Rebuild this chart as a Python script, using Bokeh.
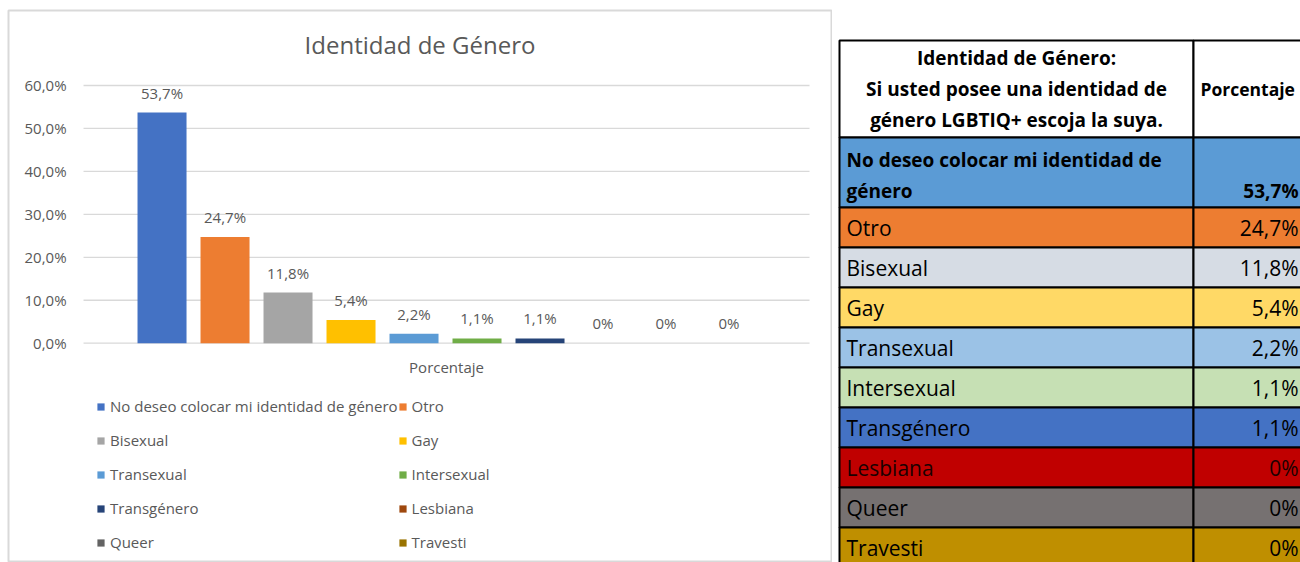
from bokeh.plotting import figure
from bokeh.models import Range1d, Legend, LegendItem, ColumnDataSource
from bokeh.layouts import row
from bokeh.embed import file_html
from bokeh.resources import INLINE
from bokeh.core.properties import value

# ---------------- data ----------------
categories = ["No deseo colocar mi identidad de género", "Otro", "Bisexual", "Gay",
              "Transexual", "Intersexual", "Transgénero", "Lesbiana", "Queer", "Travesti"]
percentages = [53.7, 24.7, 11.8, 5.4, 2.2, 1.1, 1.1, 0, 0, 0]
value_labels = ["53,7%", "24,7%", "11,8%", "5,4%", "2,2%", "1,1%", "1,1%", "0%", "0%", "0%"]
y_ticks = [0, 10, 20, 30, 40, 50, 60]
y_tick_labels = ["0,0%", "10,0%", "20,0%", "30,0%", "40,0%", "50,0%", "60,0%"]
chart_title = "Identidad de Género"
axis_title = "Porcentaje"
table_header = "Identidad de Género:\nSi usted posee una identidad de\ngénero LGBTIQ+ escoja la suya."
table_value_header = "Porcentaje"

# ---------------- styles ----------------
bar_colors = ["#4472C4", "#ED7D31", "#A5A5A5", "#FFC000", "#5B9BD5",
              "#70AD47", "#264478", "#9E480E", "#636363", "#997300"]
row_colors = ["#5B9BD5", "#ED7D31", "#D6DCE4", "#FFD966", "#9BC2E6",
              "#C6E0B4", "#4472C4", "#C00000", "#767171", "#BF8F00"]
row_text_colors = ["#000000"] * 7 + ["#1A0000", "#000000", "#000000"]
GRAY = "#595959"
LIGHT = "#D9D9D9"
FONT = "Open Sans"

# chart scale layout (frame spans the whole chart panel)
X_RANGE = (-2.437, 10.627)
Y_RANGE = (-51.06, 77.46)
PLOT_X = (-1.246, 10.278)      # extent of the plot area (gridlines)

# ---------------- chart ----------------
idx = list(range(len(categories)))
src = ColumnDataSource(dict(x=idx, top=percentages, color=bar_colors,
                            label=value_labels, cat=categories))

p = figure(width=832, height=562, x_range=Range1d(*X_RANGE), y_range=Range1d(*Y_RANGE),
           output_backend="svg", toolbar_location=None, x_axis_type=None, y_axis_type=None,
           min_border_left=8, min_border_right=1, min_border_top=10, min_border_bottom=0)
p.grid.visible = False
p.background_fill_color = "white"
p.border_fill_color = "white"
p.outline_line_color = LIGHT
p.outline_line_width = 2

# gridlines
n_t = len(y_ticks)
p.segment(x0=[PLOT_X[0]] * n_t, x1=[PLOT_X[1]] * n_t, y0=y_ticks, y1=y_ticks,
          line_color=LIGHT, line_width=1.3)
# y tick labels
p.text(x=[PLOT_X[0]] * n_t, y=y_ticks, text=y_tick_labels, x_offset=-17,
       text_align="right", text_baseline="middle", text_font=value(FONT),
       text_font_size="15px", text_color=GRAY)

# title
p.text(x=[(X_RANGE[0] + X_RANGE[1]) / 2], y=[Y_RANGE[1]], text=[chart_title], y_offset=34,
       text_align="center", text_baseline="middle", text_font=value(FONT),
       text_font_size="24px", text_color=GRAY)
# category axis title
p.text(x=[(PLOT_X[0] + PLOT_X[1]) / 2], y=[0], text=[axis_title], y_offset=24,
       text_align="center", text_baseline="middle", text_font=value(FONT),
       text_font_size="15px", text_color=GRAY)

bars = p.vbar(x="x", top="top", width=0.778, fill_color="color", line_color=None, source=src)
p.text(x="x", y="top", text="label", source=src, text_align="center",
       text_baseline="alphabetic", y_offset=-20, text_font=value(FONT),
       text_font_size="15px", text_color=GRAY)

items = [LegendItem(label=c, renderers=[bars], index=i) for i, c in enumerate(categories)]
legend = Legend(items=items, location=(88, 3), orientation="horizontal", ncols=2,
                glyph_width=9, glyph_height=9, label_standoff=5, spacing=0,
                label_height=34, padding=0, margin=0, border_line_color=None,
                background_fill_color=None, background_fill_alpha=0,
                label_text_font=FONT, label_text_font_size="15px",
                label_text_color=GRAY)
p.add_layout(legend)

# ---------------- table ----------------
PAGE_X0, PAGE_X1, PAGE_Y0, PAGE_Y1 = 832, 1300, 10, 562
TABLE_LEFT, COL_SPLIT, TABLE_RIGHT = 839, 1193, 1320
TABLE_TOP, HEADER_H, FIRST_H, ROW_H = 40, 97, 70, 40

t = figure(width=PAGE_X1 - PAGE_X0, height=562, x_range=Range1d(PAGE_X0, PAGE_X1),
           y_range=Range1d(PAGE_Y1, PAGE_Y0), output_backend="svg", toolbar_location=None,
           x_axis_type=None, y_axis_type=None, min_border_left=0, min_border_right=0,
           min_border_top=10, min_border_bottom=0)
t.outline_line_color = None
t.grid.visible = False
t.border_fill_color = "white"
t.background_fill_color = "white"

heights = [FIRST_H] + [ROW_H] * (len(categories) - 1)
tops, bottoms = [], []
cur = TABLE_TOP + HEADER_H
for h in heights:
    tops.append(cur)
    bottoms.append(cur + h)
    cur += h
n = len(categories)

# header cells
t.quad(left=[TABLE_LEFT, COL_SPLIT], right=[COL_SPLIT, TABLE_RIGHT],
       top=[TABLE_TOP, TABLE_TOP], bottom=[TABLE_TOP + HEADER_H] * 2,
       fill_color="white", line_color="black", line_width=2)
# body cells
t.quad(left=[TABLE_LEFT] * n + [COL_SPLIT] * n, right=[COL_SPLIT] * n + [TABLE_RIGHT] * n,
       top=tops + tops, bottom=bottoms + bottoms, fill_color=row_colors + row_colors,
       line_color="black", line_width=2)

t.text(x=[(TABLE_LEFT + COL_SPLIT) / 2], y=[TABLE_TOP + HEADER_H / 2], text=[table_header],
       text_align="center", text_baseline="middle", text_font=value(FONT),
       text_font_style="bold", text_font_size="19px", text_color="black",
       text_line_height=1.2)
t.text(x=[COL_SPLIT + 7], y=[TABLE_TOP + HEADER_H / 2], text=[table_value_header],
       text_align="left", text_baseline="middle", text_font=value(FONT),
       text_font_style="bold", text_font_size="17.5px", text_color="black")

# first row (bold, wrapped)
first_label = categories[0].replace(" de género", " de\ngénero")
t.text(x=[TABLE_LEFT + 7], y=[bottoms[0] - 32], text=[first_label], text_align="left",
       text_baseline="middle", text_font=value(FONT), text_font_style="bold",
       text_font_size="19px", text_color="black", text_line_height=1.16)
t.text(x=[PAGE_X1 - 2], y=[bottoms[0] - 17], text=[value_labels[0]], text_align="right",
       text_baseline="middle", text_font=value(FONT), text_font_style="bold",
       text_font_size="19px", text_color="black")

# other rows
rest = ColumnDataSource(dict(lab=categories[1:], val=value_labels[1:],
                             y=[b - 20 for b in bottoms[1:]], c=row_text_colors[1:]))
t.text(x=TABLE_LEFT + 7, y="y", text="lab", source=rest, text_align="left",
       text_baseline="middle", text_font=value(FONT), text_font_size="21px", text_color="c")
t.text(x=PAGE_X1 - 2, y="y", text="val", source=rest, text_align="right",
       text_baseline="middle", text_font=value(FONT), text_font_size="21px", text_color="c")

layout = row(p, t)
open("out.html", "w").write(file_html(layout, INLINE))
